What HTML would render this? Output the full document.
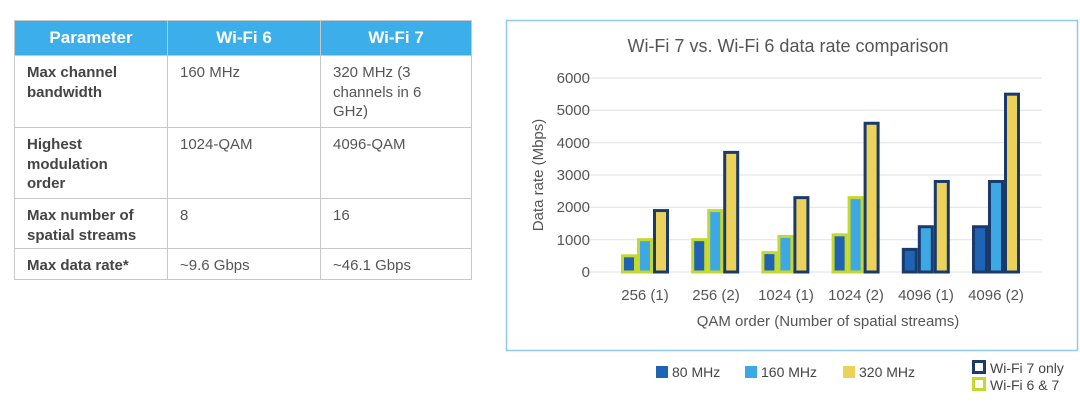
<!DOCTYPE html>
<html><head><meta charset="utf-8"><style>
body{margin:0;width:1080px;height:410px;background:#fff;position:relative;font-family:"Liberation Sans",sans-serif;overflow:hidden}
table{position:absolute;left:14px;top:20px;border-collapse:collapse;width:458px;font-size:15px;color:#555;table-layout:fixed}
th{background:#3caeea;color:#fff;font-size:17px;height:32px;border:1px solid #c8c8c8;font-weight:bold}
td{border:1px solid #c8c8c8;vertical-align:top;padding:7px 4px 0 12px;line-height:19.5px;white-space:nowrap}
td.h{font-weight:bold;color:#444}
</style></head><body>
<table>
<col style="width:153px"><col style="width:153px"><col>
<tr><th>Parameter</th><th>Wi-Fi 6</th><th>Wi-Fi 7</th></tr>
<tr style="height:72px"><td class="h">Max channel<br>bandwidth</td><td>160 MHz</td><td>320 MHz (3<br>channels in 6<br>GHz)</td></tr>
<tr style="height:71px"><td class="h">Highest<br>modulation<br>order</td><td>1024-QAM</td><td>4096-QAM</td></tr>
<tr style="height:50px"><td class="h">Max number of<br>spatial streams</td><td>8</td><td>16</td></tr>
<tr style="height:31px"><td class="h">Max data rate*</td><td>~9.6 Gbps</td><td>~46.1 Gbps</td></tr>
</table>
<svg width="1080" height="410" style="position:absolute;left:0;top:0" font-family="Liberation Sans, sans-serif">
<rect x="506.5" y="20.5" width="571" height="330" fill="none" stroke="#8fcbe8" stroke-width="1.5"/>
<text x="788" y="52" font-size="18" fill="#555" text-anchor="middle">Wi-Fi 7 vs. Wi-Fi 6 data rate comparison</text>
<g stroke="#dde3ea" stroke-width="1">
<line x1="584" x2="1042" y1="78" y2="78"/><line x1="584" x2="1042" y1="110.3" y2="110.3"/>
<line x1="584" x2="1042" y1="142.7" y2="142.7"/><line x1="584" x2="1042" y1="175" y2="175"/>
<line x1="584" x2="1042" y1="207.3" y2="207.3"/><line x1="584" x2="1042" y1="239.7" y2="239.7"/>
<line x1="584" x2="1042" y1="272" y2="272"/></g>
<g font-size="15" fill="#555" text-anchor="end">
<text x="590" y="83">6000</text><text x="590" y="115">5000</text><text x="590" y="148">4000</text>
<text x="590" y="180">3000</text><text x="590" y="212">2000</text><text x="590" y="245">1000</text><text x="590" y="277">0</text></g>
<text transform="translate(543,175) rotate(-90)" font-size="15" fill="#555" text-anchor="middle">Data rate (Mbps)</text>
<g font-size="15" fill="#555" text-anchor="middle">
<text x="645" y="300">256 (1)</text><text x="716" y="300">256 (2)</text><text x="786" y="300">1024 (1)</text>
<text x="856" y="300">1024 (2)</text><text x="926" y="300">4096 (1)</text><text x="996" y="300">4096 (2)</text>
<text x="828" y="326">QAM order (Number of spatial streams)</text></g>
<g stroke-width="3" id="bars"></g>
<g font-size="14" fill="#444">
<rect x="656" y="366" width="12" height="12" fill="#1f64b4"/><text x="672" y="377">80 MHz</text>
<rect x="745" y="366" width="12" height="12" fill="#3ea8e5"/><text x="761" y="377">160 MHz</text>
<rect x="843" y="366" width="12" height="12" fill="#ecd25a"/><text x="859" y="377">320 MHz</text>
<rect x="973.5" y="361.5" width="11" height="11" fill="#fff" stroke="#1a3a6b" stroke-width="3"/><text x="990" y="373">Wi-Fi 7 only</text>
<rect x="973.5" y="378.5" width="11" height="11" fill="#fff" stroke="#c5d82e" stroke-width="3"/><text x="990" y="390">Wi-Fi 6 &amp; 7</text>
</g>
</svg>
<script>
var d=[[500,1000,1900,1,1,0],[1000,1900,3700,1,1,0],[600,1100,2300,1,1,0],[1150,2300,4600,1,1,0],[700,1400,2800,0,0,0],[1400,2800,5500,0,0,0]];
var fill=["#1f64b4","#3ea8e5","#ecd25a"],s="";
d.forEach(function(r,i){var c=645+i*70.2;for(var j=0;j<3;j++){var h=r[j]*194/6000,x=c-22.5+j*16;
s+='<rect x="'+x+'" y="'+(272-h)+'" width="13" height="'+h+'" fill="'+fill[j]+'" stroke="'+(r[3+j]?"#c5d82e":"#1a3a6b")+'"/>';}});
document.getElementById("bars").innerHTML=s;
</script>
</body></html>
